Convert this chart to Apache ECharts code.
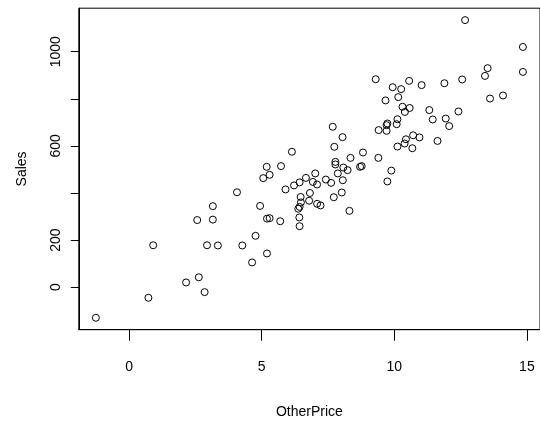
<!DOCTYPE html>
<html>
<head>
<meta charset="utf-8">
<script src="https://cdn.jsdelivr.net/npm/echarts@6/dist/echarts.min.js"></script>
<style>
html,body{margin:0;padding:0;background:#fff;}
#chart{width:540px;height:426px;}
</style>
</head>
<body>
<div id="chart"></div>
<script>
const otherPrice = [
  -1.25, 0.73, 0.91, 2.15, 2.63, 2.85, 2.57, 3.16, 3.16, 2.94,
  3.35, 4.27, 4.77, 4.64, 5.20, 4.07, 4.94, 5.20, 5.30, 5.70,
  5.19, 5.30, 5.06, 5.73, 5.90, 6.22, 6.43, 6.67, 6.47, 6.48,
  6.43, 6.38, 6.42, 6.43, 6.82, 6.79, 7.68, 7.74, 7.78, 7.78,
  7.87, 6.14, 7.02, 6.93, 7.09, 7.42, 7.62, 7.72, 7.09, 7.22,
  9.30, 9.94, 10.26, 10.56, 11.03, 9.67, 10.15, 10.31, 10.58, 10.40,
  11.32, 11.45, 9.74, 9.71, 10.12, 10.09, 9.41, 9.71, 10.71, 10.95,
  10.44, 10.39, 10.12, 10.68, 11.63, 8.05, 8.08, 8.24, 8.35, 8.82,
  8.77, 8.71, 9.40, 8.06, 8.02, 8.31, 9.89, 9.74, 12.67, 14.85,
  14.85, 13.52, 13.42, 12.56, 11.89, 13.61, 14.10, 12.42, 11.94, 12.07
];
const sales = [
  -130, -45, 178, 20, 42, -21, 285, 344, 287, 178,
  177, 177, 218, 105, 143, 403, 345, 291, 293, 280,
  511, 477, 463, 514, 415, 432, 445, 464, 383, 360,
  341, 333, 296, 259, 400, 367, 681, 596, 532, 521,
  483, 575, 483, 447, 436, 457, 443, 382, 354, 347,
  883, 849, 841, 876, 858, 793, 807, 766, 761, 744,
  752, 712, 695, 688, 713, 692, 667, 664, 645, 636,
  628, 610, 597, 590, 621, 637, 508, 497, 549, 572,
  514, 511, 549, 454, 402, 324, 495, 449, 1134, 1020,
  914, 930, 897, 882, 866, 801, 814, 746, 716, 684
];
const xTicks = [0, 5, 10, 15];
const yTicks = [0, 200, 400, 600, 800, 1000];
const yLabels = [0, 200, 600, 1000];

const points = otherPrice.map((x, i) => [x, sales[i]]);
const font = 'Liberation Sans, Arial, Helvetica, sans-serif';

const chart = echarts.init(document.getElementById('chart'), null, {renderer: 'canvas'});
chart.setOption({
  animation: false,
  backgroundColor: '#fff',
  grid: {
    left: 78.8, top: 8.2, width: 461.5, height: 321.5,
    show: true, borderColor: '#000', borderWidth: 1, backgroundColor: 'transparent'
  },
  xAxis: {
    type: 'value',
    min: -1.894, max: 15.494,
    name: 'OtherPrice',
    nameLocation: 'middle',
    nameGap: 75,
    nameTextStyle: {color: '#000', fontSize: 14, fontFamily: font, verticalAlign: 'top'},
    axisLine: {show: true, onZero: false, lineStyle: {color: '#000', width: 1}},
    splitLine: {show: false},
    axisTick: {show: true, inside: false, length: 11, customValues: xTicks, lineStyle: {color: '#000', width: 1}},
    axisLabel: {customValues: xTicks, color: '#000', fontSize: 14, fontFamily: font, margin: 30,
      formatter: v => String(v)}
  },
  yAxis: {
    type: 'value',
    min: -180.6, max: 1184.6,
    name: 'Sales',
    nameLocation: 'middle',
    nameGap: 50,
    nameRotate: 90,
    nameTextStyle: {color: '#000', fontSize: 14, fontFamily: font},
    axisLine: {show: true, onZero: false, lineStyle: {color: '#000', width: 1}},
    splitLine: {show: false},
    axisTick: {show: true, inside: false, length: 8, customValues: yTicks, lineStyle: {color: '#000', width: 1}},
    axisLabel: {customValues: yLabels, rotate: 90, color: '#000', fontSize: 14, fontFamily: font, margin: 16,
      formatter: v => String(v)}
  },
  series: [{
    type: 'scatter',
    data: points,
    symbol: 'circle',
    symbolSize: 7,
    itemStyle: {color: 'rgba(0,0,0,0)', borderColor: '#000', borderWidth: 1, opacity: 1},
    emphasis: {disabled: true}
  }]
});
</script>
</body>
</html>
